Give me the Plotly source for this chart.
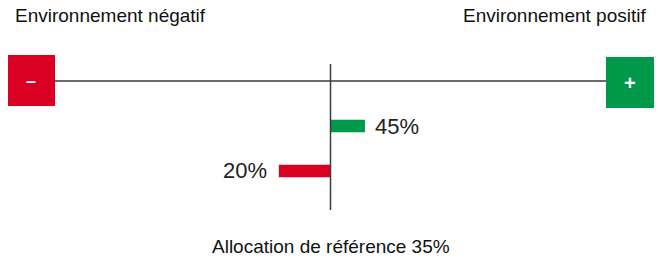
import plotly.graph_objects as go

# ---- data ----
scenarios = ["Négatif", "Positif"]
allocations = [20, 45]          # % allocation per environment
reference_allocation = 35       # % reference allocation
end_labels = ["Environnement négatif", "Environnement positif"]
box_symbols = ["–", "+"]
bottom_label = "Allocation de référence"

RED = "#DA0021"
GREEN = "#00994A"
LINE = "#3a3a3a"
FONT = "Liberation Sans, Arial, sans-serif"

# the page shows the figure offset by the default 8px body margin
OFF = 8
PL, PR, PT, PB = 55, 606, 64, 210   # plot area in screenshot pixels


def px(x):
    return (x - PL) / (PR - PL)


def py(y):
    return (PB - y) / (PB - PT)


deltas = [a - reference_allocation for a in allocations]
colors = [RED, GREEN]

fig = go.Figure()
fig.add_trace(go.Bar(
    y=scenarios, x=deltas, base=0, orientation="h",
    marker=dict(color=colors, line=dict(width=0)),
    width=0.28, hoverinfo="skip", showlegend=False,
))

# value labels next to bar ends
for s, a, d in zip(scenarios, allocations, deltas):
    fig.add_annotation(
        x=d, y=s, xref="x", yref="y", text=f"{a}%", showarrow=False,
        xanchor="left" if d > 0 else "right",
        xshift=8 if d > 0 else -10, yanchor="middle",
        font=dict(family=FONT, size=22, color="#222222"),
    )

shapes = [
    dict(type="line", xref="x", yref="paper", x0=0, x1=0, y0=0, y1=1,
         line=dict(color=LINE, width=1.5)),
    dict(type="line", xref="paper", yref="y", x0=0, x1=1, y0=2, y1=2,
         line=dict(color=LINE, width=1.5)),
    dict(type="rect", xref="paper", yref="paper", x0=px(7), x1=px(55),
         y0=py(106), y1=py(55), fillcolor=RED, line=dict(width=0), layer="above"),
    dict(type="rect", xref="paper", yref="paper", x0=px(606), x1=px(654),
         y0=py(108), y1=py(57), fillcolor=GREEN, line=dict(width=0), layer="above"),
]
fig.update_layout(shapes=shapes)

fig.add_annotation(x=px(31), y=py(80.5), xref="paper", yref="paper", xanchor="center", yanchor="middle",
                   text=f"<b>{box_symbols[0]}</b>", showarrow=False,
                   font=dict(family=FONT, size=18, color="white"))
fig.add_annotation(x=px(630), y=py(82.5), xref="paper", yref="paper", xanchor="center", yanchor="middle",
                   text=f"<b>{box_symbols[1]}</b>", showarrow=False,
                   font=dict(family=FONT, size=20, color="white"))

fig.add_annotation(x=px(13), y=py(15), xref="paper", yref="paper", xanchor="left", yanchor="middle",
                   text=end_labels[0], showarrow=False,
                   font=dict(family=FONT, size=19, color="#111111"))
fig.add_annotation(x=px(648), y=py(15), xref="paper", yref="paper", xanchor="right", yanchor="middle",
                   text=end_labels[1], showarrow=False,
                   font=dict(family=FONT, size=19, color="#111111"))
fig.add_annotation(x=0, y=py(246), xref="x", yref="paper", xanchor="center", yanchor="middle",
                   text=f"{bottom_label} {reference_allocation}%", showarrow=False,
                   font=dict(family=FONT, size=19, color="#111111"))

fig.update_layout(
    width=664, height=258,
    margin=dict(l=PL - OFF, r=664 - (PR - OFF), t=PT - OFF, b=258 - (PB - OFF)),
    paper_bgcolor="white", plot_bgcolor="white",
    xaxis=dict(range=[-80, 80], visible=False, fixedrange=True),
    yaxis=dict(type="category", categoryorder="array", categoryarray=scenarios,
               range=[-0.867, 2.378], visible=False, fixedrange=True),
    showlegend=False,
)

fig.write_html("out.html")
